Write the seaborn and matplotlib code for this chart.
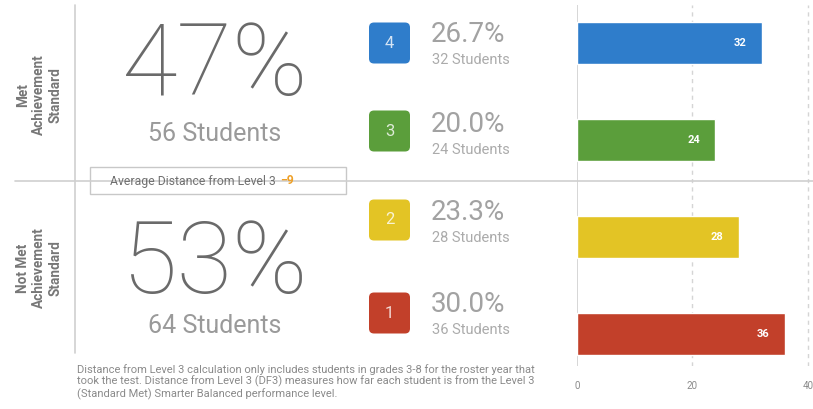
import matplotlib
matplotlib.use("Agg")
import matplotlib.pyplot as plt
from matplotlib.patches import FancyBboxPatch, Rectangle
import seaborn as sns
import pandas as pd

# ---- data ----
levels = ["4", "3", "2", "1"]
counts = [32, 24, 28, 36]
level_pcts = ["26.7%", "20.0%", "23.3%", "30.0%"]
level_colors = ["#2f7dcb", "#5b9e3b", "#e3c425", "#c2402a"]
group_labels = ["Met\nAchievement\nStandard", "Not Met\nAchievement\nStandard"]
group_pcts = ["47%", "53%"]
group_counts = [56, 64]
avg_distance = -9
x_ticks = [0, 20, 40]
footnote = ("Distance from Level 3 calculation only includes students in grades 3-8 for the roster year that\n"
            "took the test. Distance from Level 3 (DF3) measures how far each student is from the Level 3\n"
            "(Standard Met) Smarter Balanced performance level.")

sns.set_theme(style="white")
plt.rcParams["font.family"] = ["Roboto", "DejaVu Sans"]

W, H = 813, 409
fig = plt.figure(figsize=(W / 100, H / 100), dpi=100)
fig.patch.set_facecolor("white")

# ---- bar chart ----
ax = fig.add_axes([577 / W, 1 - 366 / H, (W - 577) / W, (366 - 5) / H])
df = pd.DataFrame({"level": levels, "count": counts})
sns.barplot(data=df, x="count", y="level", hue="level", palette=level_colors,
            orient="h", width=0.44, saturation=1, legend=False, ax=ax, zorder=3)
ax.set_xlim(0, 40.9)
ax.set_ylim(3.33, -0.392)
ax.set_xticks(x_ticks)
ax.set_xticklabels([str(t) for t in x_ticks], fontsize=7, color="#8a8a8a")
ax.tick_params(axis="x", length=0, pad=11)
ax.set_yticks([])
ax.set_xlabel("")
ax.set_ylabel("")
for s in ax.spines.values():
    s.set_visible(False)
ax.axvline(0, color="#cfcfcf", lw=1.2, zorder=1)
for t in x_ticks[1:]:
    ax.axvline(t, color="#d5d5d5", lw=1, ls=(0, (3, 3)), zorder=1)
for i, c in enumerate(counts):
    ax.annotate(str(c), (c, i), xytext=(-22, 0), textcoords="offset pixels",
                ha="center", va="center", color="white", fontsize=8, fontweight="bold",
                zorder=4)

# ---- overlay in pixel coords ----
ov = fig.add_axes([0, 0, 1, 1], zorder=5)
ov.set_xlim(0, W)
ov.set_ylim(H, 0)
ov.axis("off")

# divider lines
ov.plot([75, 75], [5, 353], color="#cfcfcf", lw=1.2)
ov.plot([15, W], [181, 181], color="#cfcfcf", lw=1.2)

# average distance box
ov.add_patch(Rectangle((90, 167), 256, 27, facecolor="white", edgecolor="#c8c8c8", lw=1))
t1 = ov.text(110, 181, "Average Distance from Level 3", ha="left", va="center",
             fontsize=8.8, color="#707070")
fig.canvas.draw()
bb = t1.get_window_extent()
ov.annotate(str(avg_distance).replace("-", "\u2212"), xy=(bb.x1 + 4, H - 181),
            xycoords="figure pixels", ha="left", va="center", fontsize=8.8,
            color="#eea028", fontweight="bold")

# group labels and big percentages
gy_label = [95, 268]
gy_pct = [68, 266]
gy_cnt = [134, 326]
for i in range(2):
    ov.text(39, gy_label[i], group_labels[i], rotation=90, ha="center", va="center",
            fontsize=9.8, color="#777777", fontweight="bold", linespacing=1.2,
            multialignment="center")
    ov.text(215, gy_pct[i], group_pcts[i], ha="center", va="center",
            fontsize=73, color="#6a6a6a", fontweight="light")
    ov.text(215, gy_cnt[i], f"{group_counts[i]} Students", ha="center", va="center",
            fontsize=18, color="#9a9a9a")

# level boxes
box_cy = [43, 131, 220, 313]
pct_cy = [35, 124, 213, 305]
stu_cy = [60, 150, 238, 330]
for i in range(4):
    ov.add_patch(FancyBboxPatch((369, box_cy[i] - 20.5), 41, 41,
                                boxstyle="round,pad=0,rounding_size=5",
                                facecolor=level_colors[i], edgecolor="none"))
    ov.text(389.5, box_cy[i], levels[i], ha="center", va="center", fontsize=12,
            color="white", alpha=0.8)
    ov.text(431, pct_cy[i], level_pcts[i], ha="left", va="center", fontsize=20,
            color="#a2a2a2")
    ov.text(432, stu_cy[i], f"{counts[i]} Students", ha="left", va="center",
            fontsize=10.5, color="#ababab")

# footnote
ov.text(77, 364, footnote, ha="left", va="top", fontsize=8, color="#8a8a8a",
        linespacing=1.12)

fig.savefig("out.png", dpi=100, facecolor="white")
